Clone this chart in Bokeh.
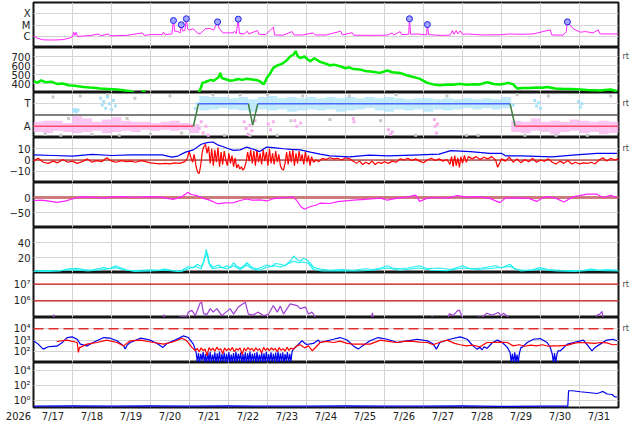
import numpy as np
from bokeh.plotting import figure
from bokeh.layouts import column
from bokeh.models import Range1d, FixedTicker, LinearAxis, LogAxis, Span
from bokeh.embed import file_html
from bokeh.resources import INLINE

# ---------------- axis text ----------------
YEAR_LABEL = "2026"
DAY_LABELS = ["7/17", "7/18", "7/19", "7/20", "7/21", "7/22", "7/23", "7/24",
              "7/25", "7/26", "7/27", "7/28", "7/29", "7/30", "7/31"]
XRAY_CLASS_LEVELS = [1e-6, 1e-5, 1e-4]
XRAY_CLASS_LABELS = ["C", "M", "X"]

# ---------------- data (time in days since 7/17 00:00) ----------------
XRAY = [(0.00, 1.1e-6), (0.08, 7e-7), (0.25, 4.8e-7), (0.50, 4.6e-7), (0.76, 5.0e-7), (0.94, 7.2e-7),
        (1.00, 9e-7), (1.03, 2.3e-6), (1.06, 1.2e-6), (1.09, 2.2e-6), (1.13, 9.4e-7), (1.20, 1.0e-6),
        (1.45, 1.15e-6), (1.68, 1.6e-6), (1.72, 1.1e-6), (1.92, 1.6e-6), (1.96, 1.1e-6), (2.40, 1.2e-6),
        (2.79, 2.0e-6), (2.84, 1.2e-6), (3.00, 1.4e-6), (3.30, 1.4e-6), (3.33, 2.3e-6), (3.37, 1.4e-6),
        (3.55, 1.6e-6), (3.59, 2.5e-5), (3.62, 2.8e-6), (3.68, 2.8e-6), (3.76, 2.0e-6), (3.79, 1.05e-5),
        (3.82, 3.0e-6), (3.88, 3.2e-6), (3.92, 3.6e-5), (3.95, 4.6e-6), (4.00, 3.5e-6), (4.09, 4.6e-6),
        (4.20, 2.0e-6), (4.27, 1.6e-6), (4.40, 4.6e-6), (4.52, 4.9e-6), (4.62, 3.5e-6), (4.72, 1.9e-5),
        (4.76, 5e-6), (4.86, 2.0e-6), (5.00, 2.0e-6), (5.12, 2.0e-6), (5.15, 2.8e-6), (5.20, 1.8e-6),
        (5.25, 3.3e-5), (5.28, 1.8e-6), (5.40, 1.6e-6), (5.48, 2.8e-6), (5.52, 1.6e-6), (5.74, 3.2e-6),
        (5.78, 1.5e-6), (5.95, 1.4e-6), (6.15, 6.3e-6), (6.18, 1.3e-6), (6.40, 1.25e-6), (6.63, 2.6e-6),
        (6.68, 1.3e-6), (6.90, 1.3e-6), (7.17, 2.0e-6), (7.22, 1.3e-6), (7.50, 1.3e-6), (7.88, 2.8e-6),
        (7.92, 1.3e-6), (8.17, 2.1e-6), (8.21, 1.25e-6), (8.60, 1.2e-6), (9.07, 1.25e-6), (9.20, 2.0e-6),
        (9.24, 1.3e-6), (9.40, 2.6e-6), (9.44, 1.4e-6), (9.62, 1.5e-6), (9.64, 3.6e-5), (9.67, 1.5e-6),
        (9.84, 1.6e-6), (10.08, 1.3e-6), (10.10, 1.1e-5), (10.13, 1.4e-6), (10.40, 1.2e-6), (10.68, 1.25e-6),
        (10.74, 3.2e-6), (10.78, 1.5e-6), (10.84, 3.2e-6), (10.88, 1.6e-6), (10.94, 3.0e-6), (11.00, 1.5e-6),
        (11.12, 1.6e-6), (11.50, 1.3e-6), (11.97, 1.35e-6), (12.20, 1.6e-6), (12.50, 1.5e-6), (12.81, 1.6e-6),
        (13.25, 3.7e-6), (13.29, 1.3e-6), (13.58, 1.25e-6), (13.66, 2.5e-6), (13.69, 1.9e-5), (13.84, 4.6e-6),
        (14.02, 2.3e-6), (14.15, 2.6e-6), (14.35, 2.0e-6), (14.48, 3.7e-6), (14.52, 1.7e-6), (14.60, 1.6e-6),
        (15.00, 1.6e-6)]
FLARES = [(3.59, 2.5e-5), (3.79, 1.05e-5), (3.92, 3.6e-5), (4.72, 1.9e-5), (5.25, 3.3e-5),
          (9.64, 3.6e-5), (10.10, 1.1e-5), (13.69, 1.9e-5)]

SPEED = [(0.0, 425), (0.1, 410), (0.2, 435), (0.3, 415), (0.45, 420), (0.6, 395), (0.75, 400), (0.9, 380),
         (1.05, 375), (1.28, 362), (1.45, 355), (1.6, 350), (1.71, 345), (1.9, 340), (2.14, 333), (2.3, 325),
         (2.48, 315), (2.56, 302), (2.6, 290), (2.78, 290), (2.82, 320), (2.86, 290), (4.22, 290), (4.25, 311),
         (4.3, 360), (4.33, 407), (4.4, 415), (4.45, 425), (4.55, 440), (4.62, 430), (4.7, 455), (4.76, 480),
         (4.79, 518), (4.83, 460), (4.95, 445), (5.05, 430), (5.13, 437), (5.25, 450), (5.35, 440), (5.47, 452),
         (5.6, 445), (5.73, 437), (5.82, 420), (5.9, 390), (5.95, 430), (5.98, 462), (6.05, 500), (6.15, 573),
         (6.25, 600), (6.35, 615), (6.41, 629), (6.5, 660), (6.58, 700), (6.67, 722), (6.72, 760), (6.78, 700),
         (6.84, 684), (6.95, 700), (7.02, 670), (7.1, 648), (7.2, 680), (7.35, 640), (7.5, 620), (7.6, 600),
         (7.7, 610), (7.86, 592), (8.0, 570), (8.1, 580), (8.2, 560), (8.37, 555), (8.5, 540), (8.7, 530),
         (8.88, 518), (9.07, 544), (9.2, 525), (9.4, 518), (9.55, 495), (9.66, 481), (9.8, 465), (9.91, 451),
         (10.0, 430), (10.1, 407), (10.25, 390), (10.42, 381), (10.6, 390), (10.75, 385), (10.94, 396),
         (11.1, 385), (11.3, 392), (11.45, 390), (11.63, 414), (11.8, 395), (11.96, 390), (12.1, 400),
         (12.18, 407), (12.3, 390), (12.4, 345), (12.55, 350), (12.73, 351), (12.9, 355), (13.05, 352),
         (13.17, 362), (13.38, 345), (13.6, 340), (13.8, 338), (14.02, 333), (14.2, 328), (14.4, 325),
         (14.53, 322), (14.65, 328), (14.79, 333), (14.9, 322), (14.96, 315)]

# sector polarity: band per 0.25-day bin (low/high), model line, scattered dots
TA_BIN = 0.25
TA_LO = [-1.5, -1.6, -1.4, -1.5, -1.6, -1.5, -1.4, -1.6, -1.5, -1.4, -1.5, -1.3, -1.4, -1.3, -1.4, -1.3, -1.6,
         0.4, 0.5, 0.6, 0.5, 0.4, 0.3, 0.5, 0.4, 0.5, 0.3, 0.4, 0.5, 0.4, 0.5, 0.3, 0.4, 0.5, 0.6, 0.4, 0.3,
         0.5, 0.4, 0.5, 0.3, 0.5, 0.4, 0.5, 0.6, 0.5, 0.6, 0.5, 0.6,
         -1.5, -1.6, -1.4, -1.5, -1.7, -1.5, -1.4, -1.6, -1.5, -1.7, -1.6]
TA_HI = [-0.6, -0.5, -0.5, -0.7, -0.1, -0.3, -0.6, -0.4, -0.2, -0.5, -0.6, -0.6, -0.7, -0.6, -0.5, -0.7, -0.8,
         1.7, 1.6, 1.6, 1.5, 1.6, 1.4, 1.6, 1.7, 1.5, 1.6, 1.5, 1.6, 1.5, 1.6, 1.5, 1.6, 1.5, 1.6, 1.5, 1.6,
         1.5, 1.4, 1.5, 1.5, 1.4, 1.5, 1.4, 1.5, 1.4, 1.5, 1.4, 1.6,
         -0.5, -0.6, -0.3, -0.6, -0.5, -0.6, -0.4, -0.5, -0.6, -0.5, -0.6]
TA_MODEL_T = [0.0, 4.10, 4.23, 5.51, 5.62, 5.75, 12.22, 12.35, 15.0]
TA_MODEL_V = [-1, -1, 1, 1, -0.9, 1, 1, -1, -1]
TA_BLUE_PTS = [(1.02, 0.35), (1.06, 0.5), (1.1, 0.3), (1.14, 0.45), (1.72, 1.5), (1.76, 0.9), (1.8, 1.2),
               (1.85, 0.6), (1.9, 1.6), (1.95, 1.0), (2.0, 0.5), (2.05, 1.3), (2.1, 0.8), (12.85, 1.3),
               (12.9, 0.8), (12.95, 1.1), (13.0, 0.6), (13.98, 1.2), (14.02, 0.7), (14.06, 1.0), (12.3, 0.9),
               (4.15, 0.6), (4.2, 1.0)]
TA_PINK_PTS = [(4.25, -1.2), (4.3, -0.6), (4.35, -1.6), (4.42, -1.0), (4.48, -1.8), (5.40, -0.6), (5.45, -1.2),
               (5.5, -1.7), (5.55, -0.9), (5.6, -1.4), (5.68, -0.5), (6.02, -0.8), (6.08, -1.3), (6.15, -0.6),
               (6.7, -0.5), (6.75, -1.0), (6.85, -0.7), (8.2, -0.3), (8.22, -0.6), (9.1, -1.3), (9.15, -1.7),
               (9.2, -1.5), (10.28, -0.4), (10.3, -1.0), (10.33, -1.6), (10.36, -0.8)]
TA_GREY_PTS = [(0.3, -1.7), (0.5, 1.6), (0.7, -1.8), (1.2, 1.7), (1.5, -1.7), (1.9, 1.8), (2.2, -1.8),
               (2.6, 1.5), (3.0, -1.7), (3.5, 1.7), (3.8, -1.6), (4.6, 1.8), (4.9, -1.8), (5.3, 1.8),
               (5.55, -1.8), (6.0, 1.8), (6.25, -1.8), (6.6, -0.5), (6.9, 1.7), (7.6, -0.4), (8.1, 1.7),
               (8.9, -0.5), (9.3, 1.8), (9.8, -1.8), (10.6, 1.7), (11.1, -1.8), (11.4, -1.8), (12.4, 1.8),
               (12.6, -1.8), (13.2, 1.7), (13.4, -1.8), (14.2, -1.8), (14.8, 1.7), (0.9, -0.3), (2.4, -0.3)]

BT = [(0.0, 4.5), (0.5, 4.0), (1.0, 3.5), (1.5, 5.0), (2.0, 4.0), (2.5, 4.5), (3.0, 4.5), (3.3, 4.5),
      (3.55, 2.5), (3.7, 3.5), (3.9, 7), (4.1, 9), (4.3, 14), (4.45, 15.5), (4.6, 16), (4.72, 13.5),
      (4.85, 12), (5.0, 10), (5.13, 8.5), (5.3, 9), (5.47, 11.5), (5.6, 10), (5.8, 7.5), (5.98, 11.5),
      (6.15, 11), (6.41, 10), (6.6, 9.5), (6.84, 9), (7.1, 7), (7.35, 5.3), (7.6, 3.7), (8.1, 2.8),
      (8.6, 4.3), (9.1, 3.7), (9.9, 4.6), (10.4, 5.2), (10.7, 8.3), (11.2, 7.4), (11.7, 5.9), (12.0, 5.9),
      (12.1, 3.7), (12.5, 3.7), (13.3, 2.8), (13.9, 4.6), (14.45, 5.9), (14.96, 5.9)]
BZ = [(0.00, -1), (0.12, 1.5), (0.25, -2), (0.38, -3), (0.5, -1), (0.62, -2.5), (0.75, 0.5), (0.88, -2),
      (1.0, -1), (1.12, -3), (1.25, -1.5), (1.38, 1), (1.5, -2), (1.62, -0.5), (1.75, -1.5), (1.88, 2),
      (2.0, -1), (2.12, -2), (2.25, -0.5), (2.38, -1.5), (2.5, -1), (2.62, -2), (2.75, -0.5), (2.88, -1.5),
      (3.0, -2.5), (3.12, -3), (3.25, -3.5), (3.38, -3), (3.5, -3.5), (3.62, -2.5), (3.75, -3), (3.88, -1.5),
      (3.95, 2), (3.99, 8), (4.03, 3), (4.08, -2), (4.12, 5), (4.17, -6), (4.21, -11), (4.25, -12), (4.29, -4),
      (4.33, 8), (4.37, 12), (4.41, 14), (4.45, 6), (4.49, 12), (4.53, -3), (4.57, 10), (4.61, -5), (4.65, 9),
      (4.69, -2), (4.73, 11), (4.77, -6), (4.81, 7), (4.85, -4), (4.89, 8), (4.93, 0), (4.97, -5), (5.01, 6),
      (5.05, -3), (5.09, 4), (5.13, -6), (5.17, 2), (5.21, -7), (5.25, -4), (5.29, -8), (5.33, -6), (5.37, -9),
      (5.41, -7), (5.45, -2), (5.49, 7), (5.53, -1), (5.57, 9), (5.61, -3), (5.65, 8), (5.69, -5), (5.73, 9),
      (5.77, -2), (5.81, 6), (5.85, -4), (5.89, 9), (5.93, -1), (5.97, 7), (6.01, -5), (6.05, 10), (6.09, -3),
      (6.13, 6), (6.17, -4), (6.21, 8), (6.25, -2), (6.29, 5), (6.33, -5), (6.37, -8), (6.41, -9), (6.45, -3),
      (6.49, 7), (6.53, -4), (6.57, 8), (6.61, -2), (6.65, 9), (6.69, -5), (6.73, 6), (6.77, -3), (6.81, 8),
      (6.85, -1), (6.89, 5), (6.93, -4), (6.97, 7), (7.01, -2), (7.05, 4), (7.09, -5), (7.13, 3), (7.18, -2),
      (7.25, 0), (7.32, -1.5), (7.4, 1.5), (7.5, 0.5), (7.6, 2), (7.7, 1), (7.8, 1.5), (7.9, 0), (8.0, 2),
      (8.1, 1), (8.2, -1), (8.28, -3), (8.36, -1), (8.44, -4), (8.52, -2), (8.6, -3.5), (8.68, -1), (8.76, -4),
      (8.84, -2), (8.92, -3), (9.0, -1.5), (9.1, -3), (9.2, -1), (9.3, -2), (9.4, 1), (9.5, 0), (9.6, 1.5),
      (9.7, -0.5), (9.8, 1), (9.9, -1), (10.0, -2.5), (10.1, 0), (10.2, 1.5), (10.3, -0.5), (10.4, 1),
      (10.5, -1), (10.6, 0.5), (10.68, -4), (10.72, 3), (10.76, -6), (10.8, 4), (10.84, -5), (10.88, 2),
      (10.92, -6.5), (10.96, 3), (11.0, -3), (11.05, 4), (11.1, -2), (11.15, 3), (11.25, 1), (11.35, 3),
      (11.45, 0.5), (11.55, 2.5), (11.65, 1), (11.75, 3), (11.85, 0), (11.9, -6.5), (11.95, -3), (12.0, 1),
      (12.1, -1), (12.2, 2.5), (12.3, -2), (12.4, 1), (12.5, -2.5), (12.6, 0.5), (12.7, -1.5), (12.8, 1.5),
      (12.9, -2), (13.0, 0), (13.1, -1), (13.2, 1), (13.3, -2), (13.4, -3.5), (13.5, -1), (13.6, -3),
      (13.7, -0.5), (13.8, -3.5), (13.9, -2), (14.0, -3.5), (14.1, -2.5), (14.2, -3), (14.3, -2), (14.4, -3.5),
      (14.5, 0), (14.6, 2), (14.7, -1), (14.8, 1.5), (14.9, 0), (15.0, 1)]

DST = [(0.0, -10), (0.2, -9), (0.4, -12), (0.6, -16), (0.8, -12), (1.0, -5), (1.2, 2), (1.5, 1), (1.8, -2),
       (2.0, 2), (2.3, 3), (2.6, 0), (2.9, 3), (3.2, 2), (3.4, -2), (3.58, -6), (3.8, 2), (3.95, 17), (4.05, 10),
       (4.2, 6), (4.35, -3), (4.5, -8), (4.72, -21), (4.9, -18), (5.13, -17), (5.3, -10), (5.47, -5), (5.6, -9),
       (5.8, -8), (6.0, -11), (6.15, -4), (6.3, -2), (6.5, 0), (6.65, 2), (6.75, -10), (6.85, -30), (6.95, -39),
       (7.1, -30), (7.25, -25), (7.35, -19), (7.6, -20), (7.8, -14), (8.0, -11), (8.2, -9), (8.5, -6), (8.9, -2),
       (9.07, -9), (9.3, -3), (9.6, 2), (9.8, 8), (9.9, -13), (10.1, -2), (10.4, 0), (10.6, -2), (10.87, 6),
       (11.1, 1), (11.4, 3), (11.7, -3), (11.96, -17), (12.1, -2), (12.5, -1), (12.7, -3), (12.9, -13),
       (13.05, -2), (13.17, 3), (13.4, -3), (13.6, -15), (13.85, 3), (14.0, 6), (14.2, 11), (14.45, 11),
       (14.6, 0), (14.8, 7), (14.96, 0)]

CYAN_A = [(0.0, 2), (0.3, 2.5), (0.68, 2), (0.86, 4.5), (1.1, 5.5), (1.3, 4), (1.45, 3), (1.65, 5), (1.8, 6.5),
          (1.95, 5), (2.1, 9), (2.25, 6), (2.4, 3), (2.6, 2.5), (2.74, 3), (3.0, 3.5), (3.2, 3), (3.35, 4.5),
          (3.55, 3), (3.77, 2), (3.97, 8), (4.1, 6), (4.2, 11), (4.3, 8), (4.36, 13), (4.43, 31), (4.49, 13),
          (4.55, 10), (4.6, 7), (4.75, 10), (4.85, 6), (4.96, 9), (5.05, 7), (5.13, 13), (5.2, 9), (5.3, 6),
          (5.4, 9), (5.47, 13), (5.6, 7), (5.73, 4.5), (5.85, 7), (5.98, 10), (6.1, 8), (6.2, 12), (6.33, 11),
          (6.45, 9), (6.6, 16), (6.67, 22), (6.76, 17), (6.84, 15), (6.92, 19), (7.0, 17), (7.1, 12), (7.18, 7),
          (7.35, 4.5), (7.6, 3), (7.9, 4), (8.2, 3), (8.5, 5), (8.7, 4), (8.9, 6), (9.07, 9), (9.2, 6), (9.4, 5),
          (9.6, 6), (9.9, 9), (10.1, 5), (10.4, 6), (10.7, 4), (11.0, 9), (11.2, 5), (11.5, 6), (11.85, 9),
          (12.0, 6), (12.22, 11), (12.35, 4), (12.6, 3), (12.8, 3.5), (12.99, 6.5), (13.2, 4), (13.5, 3),
          (13.8, 2.5), (14.1, 3), (14.3, 4.5), (14.5, 3), (14.7, 4), (15.0, 3)]
CYAN_B = [(0.0, 1), (0.4, 1.5), (0.8, 3), (1.1, 3.5), (1.4, 2), (1.8, 4), (2.1, 6.5), (2.3, 4), (2.6, 1.5),
          (3.0, 2), (3.4, 3), (3.77, 1), (3.97, 5), (4.15, 8), (4.3, 5), (4.4, 20), (4.46, 26), (4.52, 9),
          (4.6, 5), (4.8, 7), (4.96, 5), (5.13, 9), (5.3, 4), (5.47, 10), (5.6, 5), (5.8, 3), (5.98, 7), (6.2, 9),
          (6.33, 7), (6.5, 11), (6.67, 15), (6.8, 13), (6.92, 14), (7.05, 12), (7.18, 4), (7.4, 2), (7.8, 2.5),
          (8.3, 2), (8.7, 3), (9.07, 6), (9.4, 3), (9.9, 6), (10.2, 3), (10.6, 2.5), (11.0, 6), (11.4, 4),
          (11.85, 6), (12.22, 8), (12.5, 2), (13.0, 4), (13.4, 2), (13.9, 1.5), (14.3, 3), (14.7, 2.5), (15.0, 2)]

PURPLE = [(0.0, 5e4), (0.48, 5e4), (0.52, 1.5e5), (0.56, 5e4), (3.30, 5e4), (3.34, 1.5e5), (3.38, 5e4),
          (3.77, 1.1e5), (3.93, 1.15e5), (3.97, 2.1e5), (4.06, 2.7e5), (4.15, 1.3e5), (4.27, 7.2e5), (4.31, 8.3e5),
          (4.36, 1.7e5), (4.45, 1.5e5), (4.53, 3.4e5), (4.61, 2.1e5), (4.7, 3.4e5), (4.83, 1.3e5), (5.04, 3.4e5),
          (5.13, 1.6e5), (5.25, 4.2e5), (5.43, 8.3e5), (5.51, 1.6e5), (5.64, 1.4e5), (5.75, 2.1e5), (5.9, 1.3e5),
          (6.02, 1.5e5), (6.15, 5.2e5), (6.25, 2.1e5), (6.33, 4.8e5), (6.41, 1.6e5), (6.58, 6.6e5), (6.76, 5.2e5),
          (6.84, 3.4e5), (6.97, 4.2e5), (7.05, 1.6e5), (7.14, 2.1e5), (7.22, 1.1e5), (7.3, 5e4), (8.64, 5e4),
          (8.69, 1.9e5), (8.74, 5e4), (10.2, 5e4), (10.22, 1.2e5), (10.25, 5e4), (10.6, 5e4), (10.66, 1.7e5),
          (10.76, 1.3e5), (10.86, 2.4e5), (10.92, 2.8e5), (10.99, 1.1e5), (11.05, 5e4), (11.35, 5e4), (11.4, 1.1e5),
          (11.5, 1.0e5), (11.62, 1.8e5), (11.76, 1.4e5), (11.92, 2.0e5), (11.98, 1.3e5), (12.05, 1.8e5),
          (12.17, 1.1e5), (12.22, 5e4), (14.4, 5e4), (14.45, 1.4e5), (14.52, 1.6e5), (14.58, 2.3e5), (14.6, 1.1e5),
          (14.65, 5e4), (15.0, 5e4)]
P7_THRESHOLDS = [1e6, 1e7]

ELEC_BLUE = [(0.00, 850), (0.12, 430), (0.25, 155), (0.38, 250), (0.5, 270), (0.6, 280), (0.73, 560), (0.86, 1650),
             (0.99, 1900), (1.12, 1170), (1.2, 430), (1.37, 300), (1.53, 600), (1.8, 1650), (1.97, 1450), (2.14, 850),
             (2.31, 300), (2.35, 155), (2.4, 350), (2.48, 600), (2.74, 1450), (2.95, 1100), (3.17, 490), (3.32, 220),
             (3.42, 490), (3.63, 980), (3.84, 2300), (3.97, 1650), (4.1, 430), (4.17, 78),
             (4.20, 12), (4.23, 70), (4.26, 9), (4.29, 60), (4.32, 15), (4.35, 85), (4.38, 10), (4.41, 55), (4.44, 8),
             (4.47, 75), (4.50, 12), (4.53, 90), (4.56, 9), (4.59, 50), (4.62, 14), (4.65, 80), (4.68, 8), (4.71, 65),
             (4.74, 11), (4.77, 95), (4.80, 9), (4.83, 55), (4.86, 13), (4.89, 75), (4.92, 8), (4.95, 60), (4.98, 10),
             (5.01, 85), (5.04, 9), (5.07, 50), (5.10, 12), (5.13, 70), (5.16, 8), (5.19, 90), (5.22, 10), (5.25, 60),
             (5.28, 14), (5.31, 75), (5.34, 9), (5.37, 55), (5.40, 11), (5.43, 80), (5.46, 8), (5.49, 65), (5.52, 12),
             (5.55, 95), (5.58, 9), (5.61, 60), (5.64, 13), (5.67, 70), (5.70, 8), (5.73, 85), (5.76, 10), (5.79, 50),
             (5.82, 12), (5.85, 75), (5.88, 9), (5.91, 65), (5.94, 11), (5.97, 90), (6.00, 8), (6.03, 55), (6.06, 13),
             (6.09, 80), (6.12, 9), (6.15, 60), (6.18, 12), (6.21, 75), (6.24, 8), (6.27, 95), (6.30, 10), (6.33, 65),
             (6.36, 12), (6.39, 80), (6.42, 9), (6.45, 55), (6.48, 14), (6.51, 85), (6.54, 10), (6.57, 60), (6.60, 12),
             (6.63, 90), (6.66, 150), (6.79, 400), (6.88, 850), (7.0, 400), (7.18, 500), (7.3, 980), (7.35, 600),
             (7.69, 1170), (7.86, 1650), (8.04, 1000), (8.2, 300), (8.33, 155), (8.43, 300), (8.63, 850), (8.84, 1650),
             (9.07, 1170), (9.33, 600), (9.58, 850), (9.84, 1170), (10.1, 850), (10.25, 430), (10.33, 155),
             (10.42, 600), (10.68, 1170), (10.94, 1900), (11.12, 1170), (11.27, 300), (11.37, 155), (11.45, 220),
             (11.5, 130), (11.55, 250), (11.63, 180), (11.77, 600), (11.9, 980), (12.02, 600), (12.15, 220),
             (12.22, 78), (12.25, 12), (12.28, 60), (12.31, 9), (12.34, 80), (12.37, 11), (12.40, 50), (12.43, 10),
             (12.46, 70), (12.50, 220), (12.53, 220), (12.66, 600), (12.82, 1170), (12.99, 1350), (13.17, 600),
             (13.25, 220), (13.30, 60), (13.33, 10), (13.36, 70), (13.39, 9), (13.42, 50), (13.45, 110), (13.51, 110),
             (13.69, 430), (13.85, 600), (14.1, 980), (14.22, 300), (14.32, 110), (14.4, 220), (14.53, 430),
             (14.7, 980), (14.86, 1170), (14.96, 850)]
ELEC_RED = [(0.60, 740), (0.86, 980), (1.12, 600), (1.15, 80), (1.18, 220), (1.2, 220), (1.37, 430), (1.63, 600),
            (1.88, 980), (2.14, 600), (2.31, 300), (2.48, 850), (2.74, 980), (3.08, 600), (3.34, 430), (3.59, 700),
            (3.81, 1450), (3.93, 850), (4.06, 220), (4.15, 110),
            (4.2, 180), (4.25, 90), (4.3, 200), (4.35, 110), (4.4, 160), (4.45, 40), (4.5, 210), (4.55, 120),
            (4.6, 190), (4.65, 100), (4.7, 230), (4.75, 130), (4.8, 170), (4.85, 60), (4.9, 200), (4.95, 110),
            (5.0, 180), (5.05, 120), (5.1, 220), (5.15, 90), (5.2, 170), (5.25, 130), (5.3, 200), (5.35, 50),
            (5.4, 190), (5.45, 110), (5.5, 210), (5.55, 130), (5.6, 180), (5.65, 100), (5.7, 200), (5.75, 120),
            (5.8, 170), (5.85, 70), (5.9, 220), (5.95, 120), (6.0, 190), (6.05, 110), (6.1, 200), (6.15, 130),
            (6.2, 180), (6.25, 90), (6.3, 210), (6.35, 120), (6.4, 170), (6.45, 100), (6.5, 230), (6.55, 120),
            (6.6, 190), (6.66, 150), (6.75, 300), (6.84, 380), (6.95, 200), (7.05, 300), (7.15, 110), (7.25, 250),
            (7.35, 600), (7.5, 750), (7.7, 600), (7.86, 800), (8.04, 500), (8.2, 430), (8.4, 430), (8.63, 430),
            (8.9, 980), (9.1, 750), (9.3, 600), (9.5, 750), (9.7, 800), (9.9, 650), (10.1, 600), (10.25, 380),
            (10.4, 600), (10.6, 980), (10.8, 500), (10.94, 380), (11.1, 300), (11.25, 350), (11.45, 250), (11.63, 600),
            (11.8, 600), (12.0, 650), (12.15, 600), (12.3, 300), (12.45, 380), (12.6, 280), (12.75, 350), (12.9, 300),
            (13.05, 380), (13.2, 280), (13.33, 300), (13.5, 300), (13.7, 350), (13.85, 500), (14.0, 600), (14.2, 550),
            (14.4, 500), (14.53, 600), (14.7, 550), (14.85, 380), (14.96, 400)]
ELEC_THRESHOLD = [1e4]

PROTON = [(0.0, 0.15), (1.0, 0.16), (2.0, 0.15), (3.0, 0.16), (4.0, 0.15), (5.0, 0.16), (6.0, 0.15), (7.0, 0.15),
          (8.0, 0.16), (9.0, 0.15), (10.0, 0.15), (11.0, 0.16), (12.0, 0.14), (13.0, 0.15), (13.70, 0.15),
          (13.72, 17), (13.81, 17), (14.02, 12.6), (14.27, 9.3), (14.45, 7.4), (14.53, 10), (14.6, 14),
          (14.71, 6.3), (14.84, 5.4), (14.89, 2.8), (14.96, 2.3)]


def unzip(pairs):
    return [a for a, _ in pairs], [b for _, b in pairs]


FONT = "DejaVu Sans"
GRID_COLOR = "#d4d4d4"
FW = 585
xr = Range1d(0, 15)
DAY_GRID = list(range(0, 16))


def style_axis(ax, size, color, standoff):
    ax.major_tick_line_color = None
    ax.minor_tick_line_color = None
    ax.major_tick_out = 0
    ax.major_tick_in = 0
    ax.minor_tick_out = 0
    ax.minor_tick_in = 0
    ax.axis_line_color = None
    ax.major_label_standoff = standoff
    ax.major_label_text_font = FONT
    ax.major_label_text_font_size = size
    ax.major_label_text_color = color


def panel(h, ylo, yhi, ticks, labels, log=False, bottom=False, rt=None, top_border=0):
    p = figure(x_range=xr, y_range=Range1d(ylo, yhi), y_axis_type="log" if log else "linear",
               frame_width=FW, frame_height=h, min_border_left=33, min_border_right=14,
               min_border_top=top_border, min_border_bottom=0, toolbar_location=None, output_backend="svg",
               x_axis_location="below" if bottom else None, background_fill_color="white")
    p.outline_line_color = "#151515"
    p.outline_line_width = 2
    p.xgrid.ticker = FixedTicker(ticks=DAY_GRID)
    p.ygrid.ticker = FixedTicker(ticks=ticks)
    p.xgrid.grid_line_color = GRID_COLOR
    p.ygrid.grid_line_color = GRID_COLOR
    ya = p.yaxis[0]
    ya.ticker = FixedTicker(ticks=ticks)
    ya.major_label_overrides = dict(zip(ticks, labels))
    style_axis(ya, "10px", "#222222", 3)
    if rt is not None:
        cls = LogAxis if log else LinearAxis
        ax = cls(ticker=FixedTicker(ticks=[rt]), major_label_overrides={rt: "rt"})
        style_axis(ax, "8px", "#444444", 4)
        p.add_layout(ax, "right")
    return p


panels = []

# 1: X-ray
p1 = panel(45, 1e-7, 1e-3, XRAY_CLASS_LEVELS, XRAY_CLASS_LABELS, log=True, top_border=2)
t, v = unzip(XRAY)
p1.line(t, v, line_color="#ff22ff", line_width=1)
t, v = unzip(FLARES)
p1.scatter(t, v, marker="circle", size=6, fill_color="#a0a6ff", line_color="#2020ee", line_width=1)
panels.append(p1)

# 2: speed
p2 = panel(45, 300, 800, [400, 500, 600, 700], ["400", "500", "600", "700"], rt=700)
t, v = unzip(SPEED)
p2.line(t, v, line_color="#00ee00", line_width=2.5)
panels.append(p2)

# 3: sector polarity
p3 = panel(45, -2, 2, [-1, 1], ["A", "T"], rt=1)
p3.add_layout(Span(location=0, dimension="width", line_color="#555555", line_width=1.5, level="underlay"))
left = np.arange(len(TA_LO)) * TA_BIN
cols = ["#f9b6f0" if hi < 0 else "#b2e6fb" for hi in TA_HI]
p3.quad(left=left, right=left + TA_BIN, bottom=TA_LO, top=TA_HI, fill_color=cols, line_color=None, fill_alpha=0.8)
t, v = unzip(TA_GREY_PTS)
p3.scatter(t, v, marker="square", size=3, fill_color="#c8c8c8", line_color=None)
t, v = unzip(TA_BLUE_PTS)
p3.scatter(t, v, marker="square", size=3, fill_color="#a8e2fa", line_color=None)
t, v = unzip(TA_PINK_PTS)
p3.scatter(t, v, marker="square", size=3, fill_color="#f7b0ee", line_color=None)
x0, x1, y0, y1, sc = [], [], [], [], []
for i in range(len(TA_MODEL_T) - 1):
    a, b = TA_MODEL_V[i], TA_MODEL_V[i + 1]
    x0.append(TA_MODEL_T[i]); x1.append(TA_MODEL_T[i + 1]); y0.append(a); y1.append(b)
    sc.append("#ff4a6a" if (a == -1 and b == -1) else ("#4a6aff" if (a == 1 and b == 1) else "#3f7f3f"))
p3.segment(x0=x0, y0=y0, x1=x1, y1=y1, line_color=sc, line_width=1.5)
panels.append(p3)

# 4: magnetic field
p4 = panel(45, -20, 20, [-10, 0, 10], ["\u221210", "0", "10"], rt=10)
p4.add_layout(Span(location=0, dimension="width", line_color="#990000", line_width=1, level="underlay"))
t, v = unzip(BZ)
p4.line(t, v, line_color="#ff0000", line_width=1.2)
t, v = unzip(BT)
p4.line(t, v, line_color="#0000ee", line_width=1.2)
panels.append(p4)

# 5: Dst
p5 = panel(45, -100, 50, [-50, 0], ["\u221250", "0"])
p5.add_layout(Span(location=0, dimension="width", line_color="#c86868", line_alpha=0.85, line_width=3,
                   level="underlay"))
t, v = unzip(DST)
p5.line(t, v, line_color="#ff22ff", line_width=1.2)
panels.append(p5)

# 6: cyan index
p6 = panel(45, 0, 60, [20, 40], ["20", "40"])
t, v = unzip(CYAN_A)
p6.line(t, v, line_color="#22eeee", line_width=1.2)
t, v = unzip(CYAN_B)
p6.line(t, v, line_color="#22eeee", line_width=1.2)
panels.append(p6)

# 7: purple
p7 = panel(45, 1e5, 5e7, [1e6, 1e7], ["10\u2076", "10\u2077"], log=True, rt=1e7)
for lv in P7_THRESHOLDS:
    p7.add_layout(Span(location=lv, dimension="width", line_color="#cc1111", line_width=1.2))
t, v = unzip(PURPLE)
p7.line(t, v, line_color="#a040d0", line_width=1.2)
panels.append(p7)

# 8: electrons
p8 = panel(45, 1e1, 1e5, [1e2, 1e3, 1e4], ["10\u00b2", "10\u00b3", "10\u2074"], log=True, rt=1e4)
for lv in ELEC_THRESHOLD:
    p8.add_layout(Span(location=lv, dimension="width", line_color="#e03030", line_width=1.5, line_dash="10 5"))
t, v = unzip(ELEC_BLUE)
p8.line(t, v, line_color="#0000ee", line_width=1.2)
t, v = unzip(ELEC_RED)
p8.line(t, v, line_color="#ff0000", line_width=1.2)
panels.append(p8)

# 9: protons
p9 = panel(45, 1e-1, 1e5, [1e0, 1e2, 1e4], ["10\u2070", "10\u00b2", "10\u2074"], log=True, bottom=True)
t, v = unzip(PROTON)
p9.line(t, v, line_color="#0000ee", line_width=1.2)
xa = p9.xaxis[0]
label_pos = [i + 0.5 for i in range(len(DAY_LABELS))]
# the year sits at the left edge, shifted left with trailing em spaces
xa.ticker = FixedTicker(ticks=[0.0] + label_pos)
overrides = {0.0: YEAR_LABEL + "\u2003\u2003\u2003"}
overrides.update(dict(zip(label_pos, DAY_LABELS)))
xa.major_label_overrides = overrides
style_axis(xa, "10px", "#222222", 3)
panels.append(p9)

layout = column(*panels, spacing=0)
open("out.html", "w").write(file_html(layout, INLINE))
